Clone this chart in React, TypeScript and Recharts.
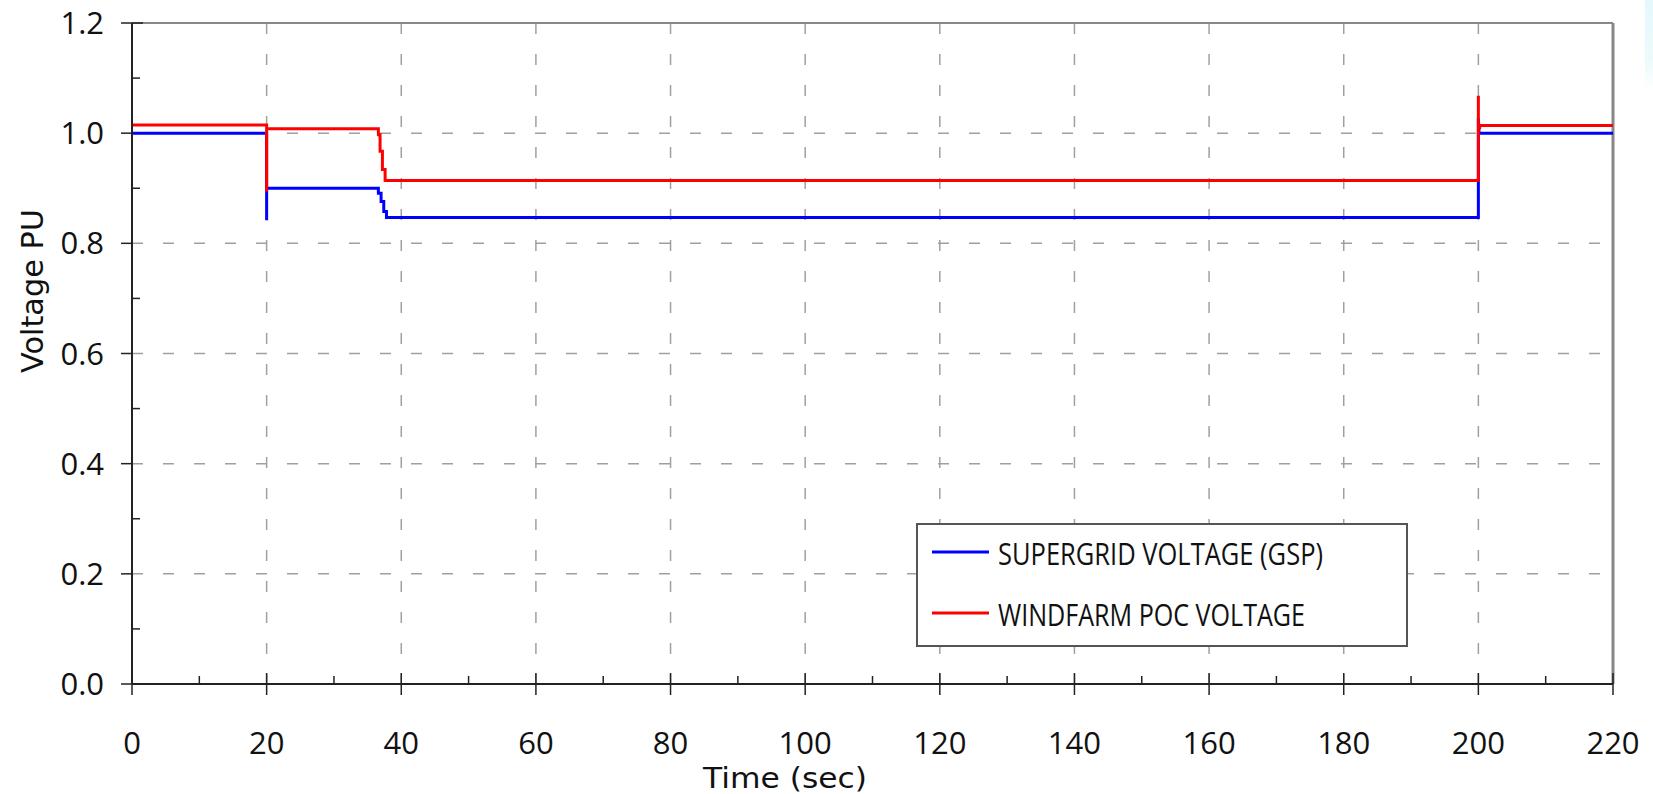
import { CartesianGrid, Line, LineChart, ReferenceLine, XAxis, YAxis } from "recharts";

// Supergrid (GSP) voltage vs. windfarm POC voltage during a voltage-step test.
const supergridTime = [0, 20, 20, 20, 36.6, 36.6, 37.0, 37.0, 37.4, 37.4, 37.8, 37.8, 200, 200, 200.1, 220];
const supergridVolt = [1.0, 1.0, 0.842, 0.9, 0.9, 0.891, 0.891, 0.876, 0.876, 0.858, 0.858, 0.847, 0.847, 1.027, 1.0, 1.0];

const pocTime = [0, 20, 20, 20, 36.6, 36.6, 36.85, 36.85, 37.2, 37.2, 37.6, 37.6, 200, 200, 200, 200.2, 200.2, 220];
const pocVolt = [1.015, 1.015, 0.894, 1.008, 1.008, 0.997, 0.997, 0.967, 0.967, 0.934, 0.934, 0.914, 0.914, 1.068, 1.01, 1.01, 1.014, 1.014];

const xTicks = [0, 10, 20, 30, 40, 50, 60, 70, 80, 90, 100, 110, 120, 130, 140, 150, 160, 170, 180, 190, 200, 210, 220];
const xMajor = [0, 20, 40, 60, 80, 100, 120, 140, 160, 180, 200, 220];
const yTicks = [0, 0.1, 0.2, 0.3, 0.4, 0.5, 0.6, 0.7, 0.8, 0.9, 1.0, 1.1, 1.2];
const yMajor = [0, 0.2, 0.4, 0.6, 0.8, 1.0, 1.2];

const seriesNames = ["SUPERGRID VOLTAGE (GSP)", "WINDFARM POC VOLTAGE"];
const seriesColors = ["#0000ff", "#ff0000"];

const supergrid = supergridTime.map((t, i) => ({ t, v: supergridVolt[i] }));
const poc = pocTime.map((t, i) => ({ t, v: pocVolt[i] }));

const tickFont = "'Open Sans', 'DejaVu Sans', sans-serif";
const titleFont = "'DejaVu Sans', 'Open Sans', sans-serif";

const isMajor = (list: number[], v: number) => list.some((m) => Math.abs(m - v) < 1e-6);

function XTick(props: any) {
  const { x, y, payload } = props;
  const v = payload.value as number;
  if (!isMajor(xMajor, v)) {
    return <line x1={x} x2={x} y1={y - 8} y2={y} stroke="#222" strokeWidth={1.5} />;
  }
  return (
    <g>
      <line x1={x} x2={x} y1={v === 0 ? y : y - 11} y2={y + 11} stroke="#222" strokeWidth={1.5} />
      <text x={x} y={y + 70} textAnchor="middle" fontFamily={tickFont} fontSize={31} fill="#111">
        {v}
      </text>
    </g>
  );
}

function YTick(props: any) {
  const { x, y, payload } = props;
  const v = payload.value as number;
  if (!isMajor(yMajor, v)) {
    return <line x1={x} x2={x + 8} y1={y} y2={y} stroke="#222" strokeWidth={1.5} />;
  }
  return (
    <g>
      <line x1={x - 11} x2={v === 1.2 ? x + 11 : x} y1={y} y2={y} stroke="#222" strokeWidth={1.5} />
      <text x={x - 28} y={y + 11} textAnchor="end" fontFamily={tickFont} fontSize={31} fill="#111">
        {v.toFixed(1)}
      </text>
    </g>
  );
}

function XTitle(props: any) {
  const vb = props.viewBox;
  return (
    <text x={vb.x + 653} y={vb.y + 104} textAnchor="middle" fontFamily={titleFont} fontSize={28}
      textLength={164} lengthAdjust="spacingAndGlyphs" fill="#111">
      Time (sec)
    </text>
  );
}

function YTitle(props: any) {
  const vb = props.viewBox;
  const cx = 43;
  const cy = vb.y + 268;
  return (
    <text x={cx} y={cy} transform={`rotate(-90 ${cx} ${cy})`} textAnchor="middle" fontFamily={titleFont}
      fontSize={30} textLength={164} lengthAdjust="spacingAndGlyphs" fill="#111">
      Voltage PU
    </text>
  );
}

function LegendBox() {
  const widths = [325, 307];
  return (
    <div
      style={{
        position: "absolute", left: 916, top: 523, width: 492, height: 124,
        boxSizing: "border-box", border: "2px solid #555", background: "#fff",
      }}
    >
      <svg width={488} height={120}>
        {seriesNames.map((name, i) => (
          <g key={name}>
            <line x1={14} x2={71} y1={27 + i * 61} y2={27 + i * 61} stroke={seriesColors[i]} strokeWidth={3} />
            <text x={80} y={40 + i * 61} fontFamily="'Liberation Sans Narrow', 'Open Sans', sans-serif" fontSize={31}
              textLength={widths[i]} lengthAdjust="spacingAndGlyphs" fill="#111">
              {name}
            </text>
          </g>
        ))}
      </svg>
    </div>
  );
}

export default function App() {
  return (
    <div style={{ position: "absolute", left: 0, top: 0, width: 1653, height: 794, background: "#fff" }}>
      <LineChart width={1653} height={794} margin={{ top: 23, right: 40, bottom: 0, left: 0 }}>
        <CartesianGrid
          horizontalValues={yMajor}
          verticalValues={xMajor}
          stroke="#a0a0a0"
          strokeWidth={1.5}
          strokeDasharray="11 20"
        />
        <XAxis
          type="number"
          dataKey="t"
          domain={[0, 220]}
          ticks={xTicks}
          interval={0}
          height={110}
          tickSize={0}
          tickMargin={0}
          tickLine={false}
          tick={<XTick />}
          axisLine={{ stroke: "#222", strokeWidth: 2 }}
          allowDuplicatedCategory={false}
          label={<XTitle />}
        />
        <YAxis
          type="number"
          domain={[0, 1.2]}
          ticks={yTicks}
          interval={0}
          width={132}
          tickSize={0}
          tickMargin={0}
          tickLine={false}
          tick={<YTick />}
          axisLine={{ stroke: "#222", strokeWidth: 2 }}
          label={<YTitle />}
        />
        <ReferenceLine y={1.2} stroke="#888" strokeWidth={2} />
        <ReferenceLine x={220} stroke="#888" strokeWidth={3} />
        <Line data={supergrid} dataKey="v" type="linear" stroke={seriesColors[0]} strokeWidth={3}
          dot={false} isAnimationActive={false} name={seriesNames[0]} />
        <Line data={poc} dataKey="v" type="linear" stroke={seriesColors[1]} strokeWidth={3}
          dot={false} isAnimationActive={false} name={seriesNames[1]} />
      </LineChart>
      <LegendBox />
      <div
        style={{
          position: "absolute", left: 1645, top: 0, width: 8, height: 90,
          background: "linear-gradient(#e4f8fb, #eefafc 70%, #ffffff)",
        }}
      />
    </div>
  );
}
